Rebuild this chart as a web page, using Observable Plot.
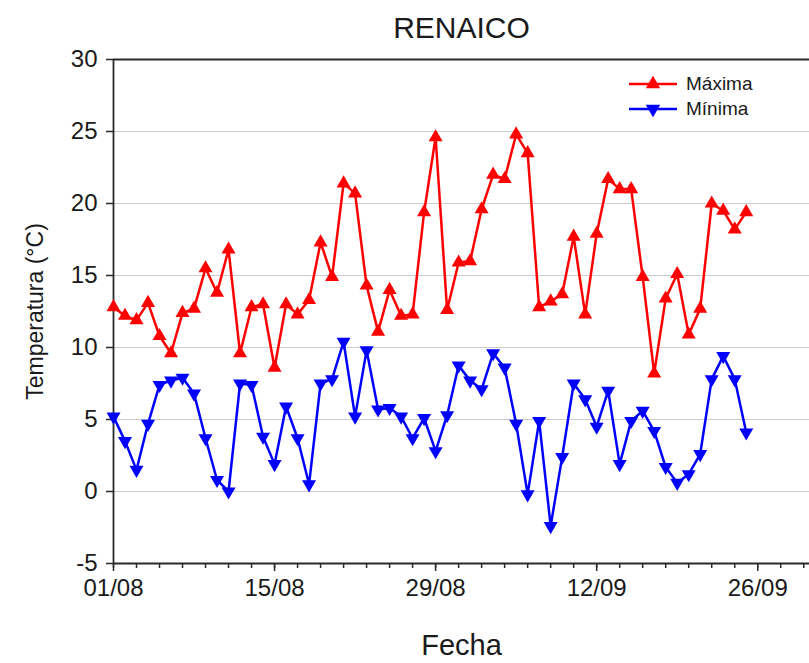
<!DOCTYPE html>
<html>
<head>
<meta charset="utf-8">
<script src="https://cdn.jsdelivr.net/npm/d3@7"></script>
<script src="https://cdn.jsdelivr.net/npm/@observablehq/plot@0.6"></script>
<style>
  body { margin: 0; background: #fff; font-family: "Liberation Sans", Arial, sans-serif; }
  #wrap { position: relative; width: 809px; height: 663px; }
  #legend { position: absolute; left: 628px; top: 71px; font-size: 19px; color: #1a1a1a; }
  #legend .row { display: flex; align-items: center; height: 25px; }
  #legend svg { margin-right: 8px; }
</style>
</head>
<body>
<div id="wrap"></div>
<script>
// ---- data ----
const titulo = "RENAICO";
const inicio = new Date(Date.UTC(2023, 7, 1));
const fin = new Date(Date.UTC(2023, 8, 26)); // exclusive
const fechas = d3.utcDay.range(inicio, fin); // 01/08 .. 25/09
const maxima = [12.8,12.2,11.9,13.1,10.8,9.6,12.4,12.7,15.5,13.8,16.8,9.6,12.8,13.0,8.6,13.0,12.3,13.3,17.3,14.9,21.4,20.7,14.3,11.1,14.0,12.2,12.3,19.4,24.6,12.6,15.9,16.0,19.6,22.0,21.7,24.8,23.5,12.8,13.2,13.7,17.7,12.3,17.9,21.7,21.0,21.0,14.9,8.2,13.4,15.1,10.9,12.7,20.0,19.5,18.2,19.4];
const minima = [5.2,3.5,1.5,4.7,7.4,7.7,7.9,6.8,3.7,0.8,0.0,7.5,7.4,3.8,1.9,5.9,3.7,0.5,7.5,7.8,10.4,5.2,9.8,5.7,5.8,5.2,3.7,5.1,2.8,5.3,8.75,7.7,7.1,9.6,8.6,4.7,-0.2,4.9,-2.4,2.4,7.5,6.4,4.5,7.0,1.9,4.9,5.6,4.2,1.7,0.6,1.2,2.6,7.8,9.4,7.8,4.1];
const yTicks = [-5, 0, 5, 10, 15, 20, 25, 30];
const xTickLabels = ["01/08", "15/08", "29/08", "12/09", "26/09"];
const series = ["Máxima", "Mínima"];
const colores = ["#ff0000", "#0000ff"];

// ---- derived ----
const parse = d3.utcParse("%d/%m/%Y");
const xTicks = xTickLabels.map(s => parse(s + "/2023"));
const xDomain = [inicio, new Date(+inicio + 60.5 * 864e5)];
const minorTicks = d3.range(0, 61, 2).map(i => d3.utcDay.offset(inicio, i));
const datos = fechas.map((f, i) => ({fecha: f, max: maxima[i], min: minima[i]}));

const triDown = {
  draw(ctx, size) {
    const y = -Math.sqrt(size / (Math.sqrt(3) * 3));
    ctx.moveTo(0, -y * 2);
    ctx.lineTo(-Math.sqrt(3) * y, y);
    ctx.lineTo(Math.sqrt(3) * y, y);
    ctx.closePath();
  }
};

const frameColor = "#2a2a2a";
const chart = Plot.plot({
  width: 809,
  height: 663,
  marginLeft: 113,
  marginRight: 0,
  marginTop: 59,
  marginBottom: 100,
  style: {fontFamily: '"Liberation Sans", Arial, sans-serif', color: "#1a1a1a", background: "#fff", overflow: "visible"},
  x: {type: "utc", domain: xDomain},
  y: {domain: [-5, 30]},
  marks: [
    Plot.gridY(yTicks.filter(t => t > -5 && t < 30), {stroke: "#cccccc", strokeOpacity: 1, strokeWidth: 1}),
    Plot.axisY(yTicks, {tickSize: 7, tickPadding: 9, fontSize: 24, label: null, tickFormat: d => String(d), stroke: frameColor, strokeWidth: 1.5}),
    Plot.axisX(minorTicks, {tickSize: 5, tickFormat: () => "", label: null, stroke: frameColor, strokeWidth: 1.5}),
    Plot.axisX(xTicks, {tickSize: 8, tickPadding: 7, fontSize: 24, label: null, tickFormat: d3.utcFormat("%d/%m"), stroke: frameColor, strokeWidth: 1.5}),
    Plot.ruleY([30, -5], {stroke: frameColor, strokeWidth: 1.8}),
    Plot.ruleX([inicio], {stroke: frameColor, strokeWidth: 1.8}),
    Plot.line(datos, {x: "fecha", y: "max", stroke: colores[0], strokeWidth: 2.5}),
    Plot.dot(datos, {x: "fecha", y: "max", symbol: "triangle", r: 5.2, fill: colores[0], stroke: "none"}),
    Plot.line(datos, {x: "fecha", y: "min", stroke: colores[1], strokeWidth: 2.5}),
    Plot.dot(datos, {x: "fecha", y: "min", symbol: triDown, r: 5.2, fill: colores[1], stroke: "none"}),
    Plot.text([titulo], {frameAnchor: "top", lineAnchor: "middle", textAnchor: "middle", dy: -31, fontSize: 30, fill: "#1a1a1a"}),
    Plot.text(["Temperatura (°C)"], {frameAnchor: "left", lineAnchor: "middle", textAnchor: "middle", dx: -78, rotate: -90, fontSize: 23, fill: "#1a1a1a"}),
    Plot.text(["Fecha"], {frameAnchor: "bottom", lineAnchor: "middle", textAnchor: "middle", dy: 82, fontSize: 29, fill: "#1a1a1a"})
  ]
});

const wrap = document.getElementById("wrap");
wrap.appendChild(chart);

// legend
const legend = document.createElement("div");
legend.id = "legend";
const tri = d3.symbol(d3.symbolTriangle, 90)();
const triD = d3.symbol(triDown, 90)();
series.forEach((s, i) => {
  const row = document.createElement("div");
  row.className = "row";
  row.innerHTML = `<svg width="50" height="16" viewBox="0 0 50 16"><line x1="1" y1="8" x2="49" y2="8" stroke="${colores[i]}" stroke-width="2.5"/><path d="${i === 0 ? tri : triD}" transform="translate(25,8)" fill="${colores[i]}"/></svg><span>${s}</span>`;
  legend.appendChild(row);
});
wrap.appendChild(legend);
</script>
</body>
</html>
